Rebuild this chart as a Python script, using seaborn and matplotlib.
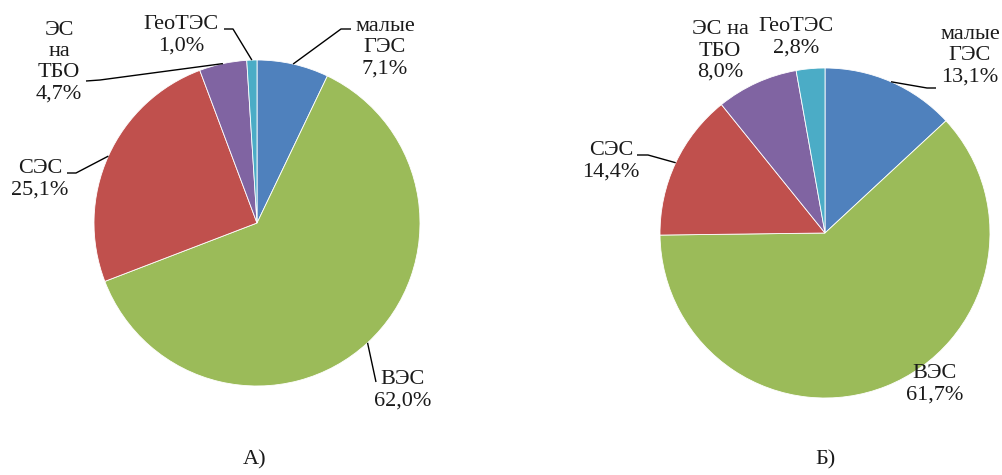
import matplotlib
matplotlib.use("Agg")
import matplotlib.pyplot as plt
import seaborn as sns
import numpy as np

# ---- data ----
categories = ["малые ГЭС", "ВЭС", "СЭС", "ЭС на ТБО", "ГеоТЭС"]
values_a = [7.1, 62.0, 25.1, 4.7, 1.0]
values_b = [13.1, 61.7, 14.4, 8.0, 2.8]
names_a = ["малые\nГЭС", "ВЭС", "СЭС", "ЭС\nна\nТБО", "ГеоТЭС"]
names_b = ["малые\nГЭС", "ВЭС", "СЭС", "ЭС на\nТБО", "ГеоТЭС"]
panel_titles = ["А)", "Б)"]

sns.set_style("white")
plt.rcParams['font.family'] = ['Liberation Serif', 'DejaVu Serif']
colors = ["#4F81BD", "#9BBB59", "#C0504D", "#8064A2", "#4BACC6"]

W, H = 1002, 475
fig = plt.figure(figsize=(W / 100, H / 100), dpi=100)
ax = fig.add_axes([0, 0, 1, 1])


def py(y):
    return H - y


panels = [
    dict(values=values_a, names=names_a, center=(257, 223), r=163,
         text=[(385, 48), (403, 390), (40, 179), (59, 62), (181, 35)],
         leaders=[[(351, 29), (341, 29)], [(376, 382)], [(67, 173), (76, 173)],
                  [(86, 81), (100, 80)], [(224, 29), (233, 29)]],
         title=(255, 460)),
    dict(values=values_b, names=names_b, center=(825, 233), r=165,
         text=[(970, 56), (935, 384), (611, 161), (720, 51), (796, 37)],
         leaders=[[(936, 88), (927, 88)], None, [(637, 155), (648, 155)], None, None],
         title=(826, 460)),
]

fs = 16
for p, ttl in zip(panels, panel_titles):
    cx, cy = p["center"]
    r = p["r"]
    vals = p["values"]
    ax.pie(vals, center=(cx, py(cy)), radius=r, startangle=90, counterclock=False,
           colors=colors, wedgeprops=dict(edgecolor="white", linewidth=0.6))
    total = sum(vals)
    cum = 0.0
    for i, v in enumerate(vals):
        mid = 90 - 360 * (cum + v / 2) / total
        cum += v
        ex = cx + r * np.cos(np.radians(mid))
        ey = py(cy) + r * np.sin(np.radians(mid))
        lbl = p["names"][i] + "\n" + f"{v:.1f}".replace(".", ",") + "%"
        tx, ty = p["text"][i]
        ax.text(tx, py(ty), lbl, ha="center", va="center", multialignment="center",
                fontsize=fs, color="#1a1a1a", linespacing=1.15)
        ld = p["leaders"][i]
        if ld:
            xs = [q[0] for q in ld] + [ex]
            ys = [py(q[1]) for q in ld] + [ey]
            ax.plot(xs, ys, color="black", linewidth=1.0, solid_capstyle="butt")
    tx, ty = p["title"]
    ax.text(tx, py(ty), ttl, ha="center", va="center", fontsize=fs, color="#1a1a1a")

ax.set_xlim(0, W)
ax.set_ylim(0, H)
ax.set_aspect("equal")
ax.axis("off")

fig.savefig("out.png", dpi=100)
